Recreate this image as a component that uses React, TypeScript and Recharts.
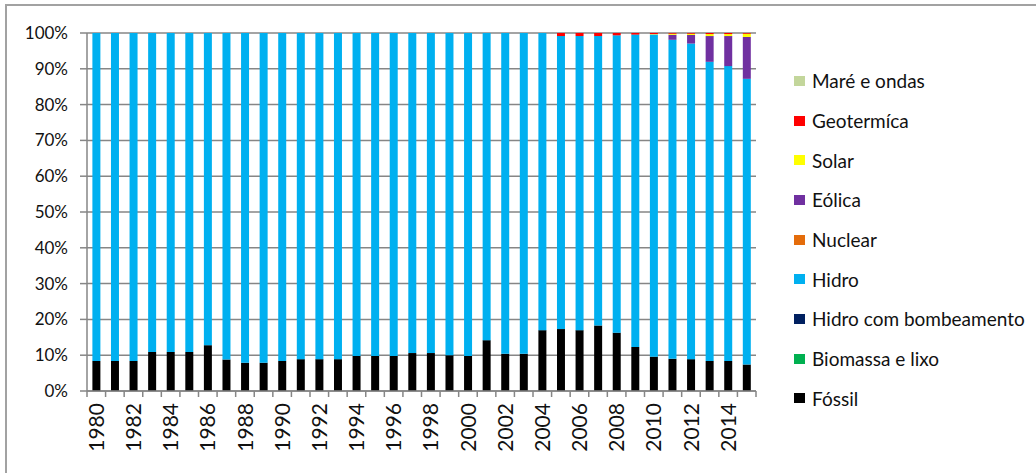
import React from "react";
import {
  BarChart,
  Bar,
  XAxis,
  YAxis,
  CartesianGrid,
  Legend,
} from "recharts";

const years = [
  "1980", "1981", "1982", "1983", "1984", "1985", "1986", "1987", "1988",
  "1989", "1990", "1991", "1992", "1993", "1994", "1995", "1996", "1997",
  "1998", "1999", "2000", "2001", "2002", "2003", "2004", "2005", "2006",
  "2007", "2008", "2009", "2010", "2011", "2012", "2013", "2014", "2015",
];

const fossil = [
  8.4, 8.4, 8.4, 10.9, 10.9, 10.9, 12.8, 8.8, 7.9, 7.9, 8.4, 8.9, 8.9, 8.9,
  9.8, 9.8, 9.8, 10.6, 10.6, 10.0, 9.8, 14.2, 10.4, 10.4, 17.0, 17.3, 17.0,
  18.3, 16.3, 12.3, 9.6, 9.0, 8.9, 8.4, 8.4, 7.4,
];
const biomass = [
  0, 0, 0, 0, 0, 0, 0, 0, 0, 0, 0, 0, 0, 0, 0, 0, 0, 0, 0, 0, 0, 0, 0, 0, 0,
  0, 0, 0, 0, 0, 0, 0, 0, 0, 0, 0,
];
const pumpedHydro = [
  0, 0, 0, 0, 0, 0, 0, 0, 0, 0, 0, 0, 0, 0, 0, 0, 0, 0, 0, 0, 0, 0, 0, 0, 0,
  0, 0, 0, 0, 0, 0, 0, 0, 0, 0, 0,
];
const hydro = [
  91.6, 91.6, 91.6, 89.1, 89.1, 89.1, 87.2, 91.2, 92.1, 92.1, 91.6, 91.1,
  91.1, 91.1, 90.2, 90.2, 90.2, 89.4, 89.4, 90.0, 90.2, 85.8, 89.6, 89.6,
  83.0, 81.85, 82.15, 80.85, 83.05, 87.25, 90.0, 89.1, 88.15, 83.55, 82.35,
  79.8,
];
const nuclear = [
  0, 0, 0, 0, 0, 0, 0, 0, 0, 0, 0, 0, 0, 0, 0, 0, 0, 0, 0, 0, 0, 0, 0, 0, 0,
  0, 0, 0, 0, 0, 0, 0, 0, 0, 0, 0,
];
const wind = [
  0, 0, 0, 0, 0, 0, 0, 0, 0, 0, 0, 0, 0, 0, 0, 0, 0, 0, 0, 0, 0, 0, 0, 0, 0,
  0, 0, 0, 0, 0, 0, 1.4, 2.4, 7.2, 8.4, 11.7,
];
const solar = [
  0, 0, 0, 0, 0, 0, 0, 0, 0, 0, 0, 0, 0, 0, 0, 0, 0, 0, 0, 0, 0, 0, 0, 0, 0,
  0, 0, 0, 0, 0, 0.1, 0.3, 0.35, 0.55, 0.55, 0.9,
];
const geothermal = [
  0, 0, 0, 0, 0, 0, 0, 0, 0, 0, 0, 0, 0, 0, 0, 0, 0, 0, 0, 0, 0, 0, 0, 0, 0,
  0.85, 0.85, 0.85, 0.65, 0.45, 0.3, 0.2, 0.2, 0.3, 0.3, 0.2,
];
const tidal = [
  0, 0, 0, 0, 0, 0, 0, 0, 0, 0, 0, 0, 0, 0, 0, 0, 0, 0, 0, 0, 0, 0, 0, 0, 0,
  0, 0, 0, 0, 0, 0, 0, 0, 0, 0, 0,
];

const yTicks = [0, 0.1, 0.2, 0.3, 0.4, 0.5, 0.6, 0.7, 0.8, 0.9, 1];

// stacking order, bottom to top
const series = [
  { key: "fossil", name: "Fóssil", color: "#000000", values: fossil },
  { key: "biomass", name: "Biomassa e lixo", color: "#00B050", values: biomass },
  { key: "pumped", name: "Hidro com bombeamento", color: "#002060", values: pumpedHydro },
  { key: "hydro", name: "Hidro", color: "#00B0F0", values: hydro },
  { key: "nuclear", name: "Nuclear", color: "#E46C0A", values: nuclear },
  { key: "wind", name: "Eólica", color: "#7030A0", values: wind },
  { key: "solar", name: "Solar", color: "#FFFF00", values: solar },
  { key: "geo", name: "Geotermíca", color: "#FF0000", values: geothermal },
  { key: "tidal", name: "Maré e ondas", color: "#C3D69B", values: tidal },
];

const data = years.map((year, i) => {
  const row: Record<string, string | number> = { year };
  series.forEach((s) => {
    row[s.key] = s.values[i];
  });
  return row;
});

const W = 1036;
const H = 473;
const MARGIN = { top: 33, right: 280, bottom: 12, left: 0 };
const Y_AXIS_W = 87;
const X_AXIS_H = 70;
const AXIS_COLOR = "#868686";
const FONT = "Lato, 'Open Sans', sans-serif";
const HALF_BAND = (W - MARGIN.right - MARGIN.left - Y_AXIS_W) / years.length / 2;

function YearTick(props: any) {
  const { x, y, payload, index } = props;
  const axisY = y - 12;
  return (
    <g>
      <line x1={x - HALF_BAND} x2={x - HALF_BAND} y1={axisY} y2={axisY + 6} stroke={AXIS_COLOR} strokeWidth={1.5} />
      {index === years.length - 1 && (
        <line x1={x + HALF_BAND} x2={x + HALF_BAND} y1={axisY} y2={axisY + 6} stroke={AXIS_COLOR} strokeWidth={1.5} />
      )}
      {index % 2 === 0 && (
        <text
          x={x}
          y={y}
          dy="0.36em"
          transform={`rotate(-90, ${x}, ${y})`}
          textAnchor="end"
          fill="#111"
          fontSize={21}
          fontFamily={FONT}
        >
          {payload.value}
        </text>
      )}
    </g>
  );
}

// legend lists the series top-of-stack first
function LegendList() {
  const items = [...series].reverse();
  return (
    <div style={{ fontFamily: FONT, fontSize: 19, color: "#111" }}>
      {items.map((item) => (
        <div key={item.key} style={{ height: 39.7, display: "flex", alignItems: "center" }}>
          <span
            style={{
              display: "inline-block",
              width: 11,
              height: 10,
              marginRight: 7,
              background: item.color,
            }}
          />
          <span>{item.name}</span>
        </div>
      ))}
    </div>
  );
}

export default function App() {
  return (
    <div style={{ position: "fixed", left: 0, top: 0, width: W, height: H, background: "#fff" }}>
      <div
        style={{
          position: "absolute",
          left: 5,
          top: 4,
          right: 0,
          bottom: 0,
          borderTop: "2px solid #a2a2a2",
          borderLeft: "2px solid #a2a2a2",
        }}
      />
      <BarChart
        width={W}
        height={H}
        data={data}
        margin={MARGIN}
        stackOffset="expand"
        barCategoryGap="29%"
      >
        <CartesianGrid vertical={false} stroke={AXIS_COLOR} strokeWidth={1.5} />
        <XAxis
          dataKey="year"
          interval={0}
          height={X_AXIS_H}
          tickSize={6}
          tickMargin={6}
          tickLine={false}
          axisLine={{ stroke: AXIS_COLOR, strokeWidth: 1.5 }}
          tick={<YearTick />}
        />
        <YAxis
          width={Y_AXIS_W}
          domain={[0, 1]}
          ticks={yTicks}
          tickFormatter={(v: number) => `${Math.round(v * 100)}%`}
          tickSize={7}
          tickMargin={12}
          axisLine={{ stroke: AXIS_COLOR, strokeWidth: 1.5 }}
          tickLine={{ stroke: AXIS_COLOR, strokeWidth: 1.5 }}
          tick={{ fill: "#111", fontSize: 17, fontFamily: FONT }}
        />
        <Legend
          layout="vertical"
          align="center"
          verticalAlign="middle"
          content={<LegendList />}
          wrapperStyle={{ left: 794, top: 61, width: 240 }}
        />
        {series.map((s) => (
          <Bar
            key={s.key}
            dataKey={s.key}
            name={s.name}
            stackId="a"
            fill={s.color}
            isAnimationActive={false}
          />
        ))}
      </BarChart>
    </div>
  );
}
